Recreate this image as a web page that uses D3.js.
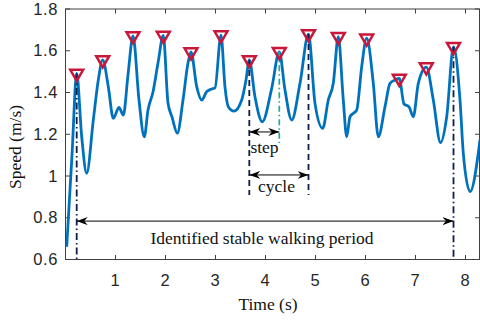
<!DOCTYPE html>
<html>
<head>
<meta charset="utf-8">
<script src="https://cdn.jsdelivr.net/npm/d3@7"></script>
<style>
    body { margin: 0; background: #fff; }
    .tickLabel { font-family: "Liberation Sans", Arial, sans-serif; font-size: 16.5px; fill: #262626; letter-spacing: 0.6px; }
    .serifText { font-family: "Liberation Serif", "Times New Roman", serif; font-size: 17.5px; fill: #111; }
</style>
</head>
<body>
<div id="chart"></div>
<script>

// Data
// ============================================
var timeSec = [0.024, 0.13, 0.224, 0.324, 0.424, 0.556, 0.656, 0.744, 0.856, 0.956,
    1.07, 1.156, 1.25, 1.35, 1.47, 1.576, 1.65, 1.75, 1.85, 1.956,
    2.05, 2.13, 2.236, 2.35, 2.45, 2.51, 2.624, 2.724, 2.824, 2.924,
    2.99, 3.11, 3.19, 3.256, 3.37, 3.524, 3.61, 3.676, 3.79, 3.936,
    4.124, 4.276, 4.39, 4.524, 4.69, 4.86, 4.99, 5.144, 5.256, 5.356,
    5.456, 5.556, 5.624, 5.69, 5.756, 5.824, 5.924, 6.024, 6.156, 6.256,
    6.39, 6.49, 6.59, 6.676, 6.77, 6.87, 6.956, 7.056, 7.216, 7.356,
    7.5, 7.624, 7.76, 7.89, 7.956, 8.09, 8.29];

var speed = [0.661, 1.10, 1.491, 1.188, 1.013, 1.268, 1.46, 1.556, 1.428, 1.276,
    1.329, 1.292, 1.484, 1.671, 1.364, 1.188, 1.316, 1.402, 1.541, 1.673,
    1.350, 1.283, 1.205, 1.364, 1.541, 1.594, 1.428, 1.364, 1.404, 1.417,
    1.422, 1.675, 1.426, 1.332, 1.311, 1.364, 1.460, 1.556, 1.378, 1.26,
    1.42, 1.595, 1.412, 1.268, 1.444, 1.68, 1.348, 1.228, 1.364, 1.444,
    1.667, 1.364, 1.188, 1.284, 1.300, 1.316, 1.524, 1.660, 1.444, 1.188,
    1.332, 1.444, 1.460, 1.467, 1.345, 1.331, 1.284, 1.444, 1.522, 1.364,
    1.160, 1.284, 1.619, 1.364, 1.109, 0.925, 1.173];

// detected peaks (triangle markers)
var peakTimes = [0.224, 0.744, 1.35, 1.956, 2.51, 3.11, 3.676, 4.276, 4.86, 5.456, 6.024, 6.676, 7.216, 7.76];
var peakSpeeds = [1.491, 1.556, 1.671, 1.673, 1.594, 1.675, 1.556, 1.595, 1.68, 1.667, 1.660, 1.467, 1.522, 1.619];

// axis ticks
var xTicks = [1, 2, 3, 4, 5, 6, 7, 8];
var yTicks = [0.6, 0.8, 1.0, 1.2, 1.4, 1.6, 1.8];
var yTickLabels = ["0.6", "0.8", "1", "1.2", "1.4", "1.6", "1.8"];

// annotation values (time in s, speed in m/s)
var stableStart = 0.224, stableEnd = 7.76;
var stepStart = 3.676, stepEnd = 4.276;
var cycleStart = 3.676, cycleEnd = 4.86;
var stableArrowY = 0.784, stepArrowY = 1.211, cycleArrowY = 1.005;
var stepLineEndY = 1.158, cycleLineEndY = 0.909;

// Set up the chart
// ================================
var svgWidth = 480;
var svgHeight = 322;

var plot = { left: 65.5, right: 479.5, top: 9, bottom: 259.5 };

var svg = d3.select("#chart")
    .append("svg")
    .attr("width", svgWidth)
    .attr("height", svgHeight);

var xScale = d3.scaleLinear().domain([0, 8.28]).range([plot.left, plot.right]);
var yScale = d3.scaleLinear().domain([0.6, 1.8]).range([plot.bottom, plot.top]);

var defs = svg.append("defs");

defs.append("clipPath")
    .attr("id", "plotClip")
    .append("rect")
    .attr("x", plot.left)
    .attr("y", plot.top)
    .attr("width", plot.right - plot.left)
    .attr("height", plot.bottom - plot.top);

defs.append("marker")
    .attr("id", "arrowHead")
    .attr("viewBox", "0 0 11 8")
    .attr("refX", 11)
    .attr("refY", 4)
    .attr("markerWidth", 11)
    .attr("markerHeight", 8)
    .attr("markerUnits", "userSpaceOnUse")
    .attr("orient", "auto-start-reverse")
    .append("path")
    .attr("d", "M0,0 L11,4 L0,8 L3.5,4 Z")
    .attr("fill", "#000");

// Axes (box with inner ticks)
// ================================
var axisColor = "#404040";
var tickLen = 4.5;

var axesGroup = svg.append("g");

axesGroup.append("rect")
    .attr("x", plot.left)
    .attr("y", plot.top)
    .attr("width", plot.right - plot.left)
    .attr("height", plot.bottom - plot.top)
    .attr("fill", "none")
    .attr("stroke", axisColor)
    .attr("stroke-width", 1);

xTicks.forEach(function(t) {
    axesGroup.append("line")
        .attr("x1", xScale(t)).attr("x2", xScale(t))
        .attr("y1", plot.bottom).attr("y2", plot.bottom - tickLen)
        .attr("stroke", axisColor);
    axesGroup.append("line")
        .attr("x1", xScale(t)).attr("x2", xScale(t))
        .attr("y1", plot.top).attr("y2", plot.top + tickLen)
        .attr("stroke", axisColor);
    axesGroup.append("text")
        .attr("class", "tickLabel")
        .attr("x", xScale(t))
        .attr("y", 285.5)
        .attr("text-anchor", "middle")
        .text(t);
});

yTicks.forEach(function(v, i) {
    axesGroup.append("line")
        .attr("x1", plot.left).attr("x2", plot.left + tickLen)
        .attr("y1", yScale(v)).attr("y2", yScale(v))
        .attr("stroke", axisColor);
    axesGroup.append("line")
        .attr("x1", plot.right).attr("x2", plot.right - tickLen)
        .attr("y1", yScale(v)).attr("y2", yScale(v))
        .attr("stroke", axisColor);
    axesGroup.append("text")
        .attr("class", "tickLabel")
        .attr("x", 58)
        .attr("y", yScale(v) + 5.5)
        .attr("text-anchor", "end")
        .text(yTickLabels[i]);
});

// Axis titles
svg.append("text")
    .attr("class", "serifText")
    .attr("x", 268)
    .attr("y", 310)
    .attr("text-anchor", "middle")
    .text("Time (s)");

svg.append("text")
    .attr("class", "serifText")
    .attr("transform", "translate(21, 147) rotate(-90)")
    .attr("text-anchor", "middle")
    .text("Speed (m/s)");

// Speed curve
// ================================
var lineData = timeSec.map(function(t, i) { return { t: t, v: speed[i] }; });

var speedLine = d3.line()
    .x(d => xScale(d.t))
    .y(d => yScale(d.v))
    .curve(d3.curveMonotoneX);

svg.append("path")
    .datum(lineData)
    .attr("clip-path", "url(#plotClip)")
    .attr("d", speedLine)
    .attr("fill", "none")
    .attr("stroke", "#0072BD")
    .attr("stroke-width", 2.8)
    .attr("stroke-linejoin", "round");

// Annotation lines
// ================================
var navy = "#0e1f4d";
var annGroup = svg.append("g");

function vLine(t, v0, v1, color, dash, width) {
    annGroup.append("line")
        .attr("x1", xScale(t)).attr("x2", xScale(t))
        .attr("y1", yScale(v0)).attr("y2", yScale(v1))
        .attr("stroke", color)
        .attr("stroke-width", width)
        .attr("stroke-dasharray", dash);
}

// stable walking period boundaries (dash-dot)
vLine(stableStart, peakSpeeds[0], 0.6, navy, "7,3,1.5,3", 1.8);
vLine(stableEnd, peakSpeeds[peakSpeeds.length - 1], 0.6, navy, "7,3,1.5,3", 1.8);

// cycle boundaries (dashed)
vLine(cycleStart, peakSpeeds[6], cycleLineEndY, navy, "6,4", 1.8);
vLine(cycleEnd, peakSpeeds[8], cycleLineEndY, navy, "6,4", 1.8);

// step boundary (teal dash-dot)
vLine(stepEnd, peakSpeeds[7], stepLineEndY, "#22a99c", "6,3,1.5,3", 1.7);

function hArrow(t0, t1, v, doubleHead) {
    var a = annGroup.append("line")
        .attr("x1", xScale(t0)).attr("x2", xScale(t1))
        .attr("y1", yScale(v)).attr("y2", yScale(v))
        .attr("stroke", "#000")
        .attr("stroke-width", 1)
        .attr("marker-end", "url(#arrowHead)");
    if (doubleHead) a.attr("marker-start", "url(#arrowHead)");
}

hArrow(stableStart, stableEnd, stableArrowY, true);
hArrow(stepStart, stepEnd, stepArrowY, true);
hArrow(cycleStart, cycleEnd, cycleArrowY, true);

annGroup.append("text")
    .attr("class", "serifText")
    .attr("x", xScale(3.93))
    .attr("y", 244)
    .attr("text-anchor", "middle")
    .text("Identified stable walking period");

annGroup.append("text")
    .attr("class", "serifText")
    .attr("x", xScale(3.98))
    .attr("y", 153)
    .attr("text-anchor", "middle")
    .text("step");

annGroup.append("text")
    .attr("class", "serifText")
    .attr("x", xScale(4.22))
    .attr("y", 192)
    .attr("text-anchor", "middle")
    .text("cycle");

// Peak markers (downward triangles)
// ================================
var triangle = d3.symbol().type(d3.symbolTriangle).size(72);

svg.append("g")
    .selectAll("path")
    .data(peakTimes)
    .enter()
    .append("path")
    .attr("d", triangle)
    .attr("transform", (d, i) => `translate(${xScale(d)}, ${yScale(peakSpeeds[i])}) rotate(180)`)
    .attr("fill", "none")
    .attr("stroke", "#c8173a")
    .attr("stroke-width", 2.5);

</script>
</body>
</html>
